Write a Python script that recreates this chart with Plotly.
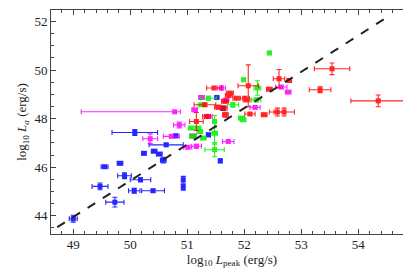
import plotly.graph_objects as go

# ---- data (log10 Lpeak, log10 La) ----
blue_x = [49.00, 49.47, 49.73, 49.55, 49.82, 49.90, 50.07, 50.18, 50.40, 50.24, 50.08,
          50.42, 50.51, 50.58, 50.63, 50.93, 50.93, 51.58, 51.37, 51.63, 50.80, 51.52]
blue_y = [43.88, 45.21, 44.56, 46.02, 46.16, 45.65, 45.03, 45.48, 45.03, 46.57, 47.43,
          46.66, 46.54, 46.29, 46.92, 45.48, 45.17, 46.26, 47.33, 48.43, 47.29, 48.87]
blue_xerr = [0.07, 0.14, 0.16, 0.06, 0.05, 0.12, 0.10, 0.18, 0.20, 0.04, 0.40,
             0.05, 0.05, 0.05, 0.30, 0.02, 0.02, 0.02, 0.03, 0.03, 0.03, 0.03]
blue_yerr = [0.14, 0.14, 0.20, 0.04, 0.06, 0.12, 0.10, 0.08, 0.06, 0.04, 0.12,
             0.06, 0.06, 0.12, 0.06, 0.14, 0.12, 0.08, 0.06, 0.08, 0.05, 0.05]

mag_x = [50.78, 50.35, 50.86, 50.72, 51.01, 51.16, 51.72, 51.37, 51.60, 51.25, 52.19,
         52.65, 52.77, 51.68, 51.13, 51.10]
mag_y = [48.28, 47.17, 47.74, 47.27, 46.82, 46.86, 47.06, 48.09, 49.26, 48.87, 48.46,
         49.30, 49.09, 48.76, 48.36, 47.29]
mag_xerr_minus = [1.64, 0.13, 0.10, 0.14, 0.07, 0.09, 0.10, 0.07, 0.07, 0.05, 0.09,
                  0.10, 0.05, 0.05, 0.05, 0.05]
mag_xerr_plus = [0.10, 0.13, 0.10, 0.14, 0.07, 0.09, 0.10, 0.07, 0.07, 0.05, 0.09,
                 0.10, 0.05, 0.05, 0.05, 0.05]
mag_yerr = [0.03, 0.20, 0.12, 0.05, 0.06, 0.08, 0.06, 0.06, 0.08, 0.08, 0.06,
            0.06, 0.06, 0.06, 0.05, 0.05]

green_x = [52.44, 51.99, 52.23, 52.21, 51.37, 51.25, 51.80, 51.95, 51.22, 51.10, 51.48,
           51.48, 51.07, 51.19, 51.28, 51.98, 51.48]
green_y = [50.70, 49.60, 49.26, 48.77, 48.84, 48.57, 48.57, 48.02, 47.47, 47.27, 47.40,
           46.72, 47.61, 47.61, 47.20, 47.95, 47.88]
green_xerr = [0.03, 0.03, 0.06, 0.08, 0.14, 0.06, 0.10, 0.05, 0.05, 0.06, 0.05,
              0.17, 0.05, 0.05, 0.05, 0.05, 0.03]
green_yerr = [0.05, 0.06, 0.30, 0.08, 0.08, 0.06, 0.10, 0.06, 0.06, 0.06, 0.45,
              0.29, 0.05, 0.05, 0.05, 0.05, 0.25]

red_x = [53.54, 53.33, 54.35, 52.61, 52.79, 52.44, 52.58, 52.70, 52.07, 51.47, 51.73,
         52.01, 51.31, 51.54, 51.67, 52.10, 52.35, 51.16, 51.34, 51.64, 51.75, 51.86,
         51.66, 52.04]
red_y = [50.05, 49.19, 48.73, 49.64, 49.57, 49.21, 48.27, 48.27, 49.35, 49.26, 48.95,
         48.84, 48.57, 48.47, 48.16, 48.19, 48.16, 47.88, 48.09, 48.43, 49.05, 48.84,
         48.71, 48.77]
red_xerr = [0.31, 0.19, 0.48, 0.10, 0.04, 0.05, 0.14, 0.18, 0.18, 0.13, 0.06,
            0.08, 0.19, 0.06, 0.05, 0.09, 0.05, 0.12, 0.07, 0.06, 0.06, 0.06,
            0.06, 0.06]
red_yerr = [0.24, 0.12, 0.24, 0.38, 0.05, 0.05, 0.16, 0.16, 0.86, 0.05, 0.06,
            0.06, 0.06, 0.08, 0.10, 0.06, 0.06, 0.37, 0.08, 0.06, 0.06, 0.06,
            0.06, 0.06]

fit_x = [48.72, 54.51]
fit_slope = 1.494
fit_x0 = 48.72
fit_y0 = 43.53

x_ticks = [49, 50, 51, 52, 53, 54]
y_ticks = [44, 46, 48, 50, 52]

fig = go.Figure()


def add_series(x, y, xe, ye, color, xe_minus=None):
    ex = dict(type="data", array=xe, color=color, thickness=1.1, width=2.5)
    if xe_minus is not None:
        ex["symmetric"] = False
        ex["arrayminus"] = xe_minus
    fig.add_trace(go.Scatter(
        x=x, y=y, mode="markers",
        marker=dict(symbol="square", size=5, color=color, line=dict(width=0)),
        error_x=ex,
        error_y=dict(type="data", array=ye, color=color, thickness=1.1, width=2.5),
        opacity=0.85, showlegend=False, hoverinfo="x+y"))


add_series(blue_x, blue_y, blue_xerr, blue_yerr, "#0000ff")
add_series(mag_x, mag_y, mag_xerr_plus, mag_yerr, "#ff00ff", xe_minus=mag_xerr_minus)
add_series(green_x, green_y, green_xerr, green_yerr, "#00ee00")
add_series(red_x, red_y, red_xerr, red_yerr, "#ff0000")

fit_y = [fit_y0 + fit_slope * (v - fit_x0) for v in fit_x]
fig.add_trace(go.Scatter(x=fit_x, y=fit_y, mode="lines",
                         line=dict(color="#222222", width=2, dash="dash"),
                         showlegend=False, hoverinfo="skip"))

font = dict(family="Liberation Serif, Times New Roman, serif", size=13, color="#222222")

axis_common = dict(
    showgrid=False, zeroline=False, showline=True, linecolor="#444444", linewidth=1,
    mirror="allticks", ticks="inside", ticklen=5, tickwidth=1, tickcolor="#444444",
    tickfont=font,
)

fig.update_xaxes(range=[48.61, 54.96], tickvals=x_ticks, ticklabelstandoff=-2,
                 minor=dict(dtick=0.2, ticks="inside", ticklen=3, tickcolor="#444444", showgrid=False),
                 title=dict(text="log<sub>10</sub> <i>L</i><sub>peak</sub> (erg/s)", font=font, standoff=2),
                 **axis_common)
fig.update_yaxes(range=[43.25, 52.47], tickvals=y_ticks,
                 minor=dict(dtick=0.5, ticks="inside", ticklen=3, tickcolor="#444444", showgrid=False),
                 title=dict(text="log<sub>10</sub> <i>L</i><sub><i>a</i></sub> (erg/s)", font=font, standoff=4),
                 **axis_common)

fig.update_layout(
    width=411, height=269,
    margin=dict(l=43, r=6, t=2, b=43),
    paper_bgcolor="white", plot_bgcolor="white",
    font=font,
)

fig.write_html("out.html")
